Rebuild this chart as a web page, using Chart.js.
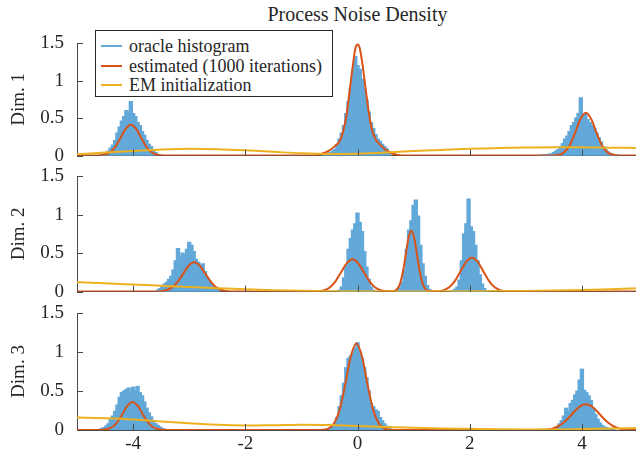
<!DOCTYPE html>
<html>
<head>
<meta charset="utf-8">
<script src="https://cdn.jsdelivr.net/npm/chart.js@4.4.0/dist/chart.umd.min.js"></script>
<style>
  html, body { margin: 0; padding: 0; background: #fff; }
  body { width: 636px; height: 455px; overflow: hidden; position: relative; font-family: 'Liberation Serif', 'DejaVu Serif', serif; color: #262626; }
  canvas { position: absolute; left: 0; }
  #title { position: absolute; left: 77px; width: 561px; top: 3px; text-align: center; font-size: 20px; line-height: 22px; }
  #legend { position: absolute; left: 95px; top: 30px; width: 236px; height: 65px; border: 1px solid #262626; background: #fff; font-size: 18px; z-index: 5; }
  .row { position: absolute; left: 0; right: 0; height: 20px; line-height: 20px; white-space: nowrap; }
  .swatch { position: absolute; left: 5px; top: 9px; width: 21px; height: 2px; }
  .row .label { position: absolute; left: 33px; top: 0; }
</style>
</head>
<body>
<div id="title">Process Noise Density</div>
<canvas id="dim1" width="638" height="180" style="top:0px"></canvas>
<canvas id="dim2" width="638" height="176" style="top:140px"></canvas>
<canvas id="dim3" width="638" height="175" style="top:280px"></canvas>
<div id="legend"></div>
<script>
const xTicks = [-4, -2, 0, 2, 4];
const yTicks = [0, 0.5, 1, 1.5];
const seriesNames = ['oracle histogram', 'estimated (1000 iterations)', 'EM initialization'];
const seriesColors = ['rgb(98, 168, 216)', 'rgb(217, 83, 25)', 'rgb(237, 177, 32)'];
const axisColor = '#4a4a4a';
const textColor = '#262626';
const binWidth = 0.04;

// Dim. 1
const dim1HistStarts = [-4.56, -0.60, 3.30];
const dim1HistHeights = [
  [0.02, 0.03, 0.04, 0.06, 0.10, 0.14, 0.20, 0.30, 0.38, 0.46, 0.52, 0.60, 0.58, 0.72, 0.56, 0.52, 0.44, 0.40, 0.32, 0.27, 0.20, 0.15, 0.12, 0.08, 0.04],
  [0.01, 0.02, 0.03, 0.04, 0.06, 0.08, 0.14, 0.22, 0.30, 0.40, 0.56, 0.72, 0.90, 1.10, 1.32, 1.20, 1.15, 1.02, 0.90, 0.74, 0.58, 0.44, 0.36, 0.28, 0.22, 0.19, 0.15, 0.12, 0.09, 0.04],
  [0.01, 0.01, 0.00, 0.02, 0.02, 0.04, 0.06, 0.08, 0.12, 0.16, 0.22, 0.26, 0.32, 0.40, 0.44, 0.50, 0.56, 0.77, 0.52, 0.55, 0.48, 0.44, 0.40, 0.36, 0.30, 0.24, 0.18, 0.12, 0.08, 0.05, 0.03, 0.02, 0.01, 0.01]
];
const dim1Estimated = [[-5, 0], [-4.64, 0.001], [-4.54, 0.007], [-4.44, 0.03], [-4.34, 0.094], [-4.24, 0.214], [-4.14, 0.348], [-4.04, 0.41], [-3.94, 0.348], [-3.84, 0.214], [-3.74, 0.094], [-3.64, 0.03], [-3.54, 0.007], [-3.44, 0.001], [-3.3, 0],
  [-0.8, 0], [-0.66, 0.02], [-0.5, 0.07], [-0.4, 0.13], [-0.3, 0.22], [-0.2, 0.52], [-0.14, 0.86], [-0.08, 1.22], [-0.04, 1.42], [0, 1.48], [0.04, 1.43], [0.08, 1.26], [0.14, 0.92], [0.2, 0.58], [0.26, 0.34], [0.32, 0.22], [0.41, 0.14], [0.5, 0.08], [0.6, 0.035], [0.7, 0.012], [0.85, 0],
  [3.47, 0.001], [3.57, 0.008], [3.67, 0.036], [3.77, 0.12], [3.87, 0.285], [3.97, 0.48], [4.07, 0.57], [4.17, 0.48], [4.27, 0.285], [4.37, 0.12], [4.47, 0.036], [4.57, 0.008], [4.67, 0.001], [5, 0]];
const dim1EMInit = [[-5, 0.018], [-4.5, 0.04], [-4, 0.06], [-3.5, 0.08], [-3, 0.09], [-2.5, 0.085], [-2, 0.07], [-1.5, 0.05], [-1, 0.03], [-0.5, 0.02], [0, 0.025], [0.5, 0.04], [1, 0.06], [1.5, 0.075], [2, 0.09], [2.5, 0.1], [3, 0.108], [3.5, 0.112], [4, 0.112], [4.5, 0.106], [5, 0.1]];

// Dim. 2
const dim2HistStarts = [-3.56, -0.32, 0.72, 1.70];
const dim2HistHeights = [
  [0.02, 0.04, 0.06, 0.10, 0.12, 0.16, 0.20, 0.28, 0.40, 0.56, 0.44, 0.50, 0.48, 0.55, 0.64, 0.60, 0.52, 0.42, 0.38, 0.34, 0.36, 0.26, 0.18, 0.14, 0.10, 0.06, 0.04, 0.02],
  [0.02, 0.06, 0.18, 0.34, 0.55, 0.69, 0.80, 0.88, 1.02, 0.90, 0.78, 0.52, 0.32, 0.16, 0.06, 0.02],
  [0.02, 0.05, 0.12, 0.28, 0.55, 0.80, 0.92, 1.12, 1.19, 0.98, 0.60, 0.36, 0.20, 0.08, 0.03],
  [0.01, 0.03, 0.06, 0.15, 0.40, 0.75, 0.88, 1.20, 0.84, 0.78, 0.60, 0.40, 0.22, 0.10, 0.04, 0.01]
];
const dim2Estimated = [[-5, 0], [-3.61, 0.001], [-3.51, 0.004], [-3.41, 0.017], [-3.31, 0.051], [-3.21, 0.123], [-3.11, 0.23], [-3.01, 0.335], [-2.91, 0.38], [-2.81, 0.335], [-2.71, 0.23], [-2.61, 0.123], [-2.51, 0.051], [-2.41, 0.017], [-2.31, 0.004], [-2.21, 0.001], [-1, 0],
  [-0.69, 0.005], [-0.59, 0.018], [-0.49, 0.057], [-0.39, 0.137], [-0.29, 0.255], [-0.19, 0.37], [-0.09, 0.42], [0.01, 0.37], [0.11, 0.255], [0.21, 0.137], [0.31, 0.057], [0.41, 0.018], [0.51, 0.006], [0.61, 0.003],
  [0.66, 0.01], [0.71, 0.035], [0.76, 0.107], [0.81, 0.257], [0.86, 0.48], [0.91, 0.70], [0.96, 0.79], [1.01, 0.70], [1.06, 0.48], [1.11, 0.257], [1.16, 0.107], [1.21, 0.035], [1.26, 0.009], [1.34, 0.004],
  [1.44, 0.005], [1.54, 0.019], [1.64, 0.059], [1.74, 0.143], [1.84, 0.267], [1.94, 0.388], [2.04, 0.44], [2.14, 0.388], [2.24, 0.267], [2.34, 0.143], [2.44, 0.059], [2.54, 0.019], [2.64, 0.005], [2.74, 0.001], [5, 0]];
const dim2EMInit = [[-5, 0.122], [-4.5, 0.107], [-4, 0.092], [-3.5, 0.076], [-3, 0.06], [-2.5, 0.045], [-2, 0.03], [-1.5, 0.018], [-1, 0.01], [-0.5, 0.005], [0, 0.003], [1, 0.002], [2, 0.003], [3, 0.008], [3.5, 0.014], [4, 0.022], [4.5, 0.032], [5, 0.042]];

// Dim. 3
const dim3HistStarts = [-4.56, -0.56, 3.48];
const dim3HistHeights = [
  [0.02, 0.03, 0.05, 0.08, 0.14, 0.18, 0.24, 0.32, 0.42, 0.48, 0.50, 0.52, 0.54, 0.48, 0.55, 0.50, 0.56, 0.48, 0.44, 0.36, 0.28, 0.22, 0.17, 0.12, 0.08, 0.06, 0.04, 0.02, 0.01],
  [0.01, 0.02, 0.03, 0.05, 0.08, 0.16, 0.30, 0.44, 0.60, 0.80, 0.92, 0.95, 0.98, 1.05, 1.12, 1.00, 0.92, 0.80, 0.67, 0.50, 0.34, 0.30, 0.26, 0.24, 0.16, 0.12, 0.08, 0.05, 0.03, 0.01],
  [0.01, 0.02, 0.04, 0.08, 0.12, 0.18, 0.28, 0.24, 0.34, 0.38, 0.45, 0.50, 0.64, 0.78, 0.51, 0.48, 0.44, 0.38, 0.28, 0.20, 0.14, 0.09, 0.06, 0.04, 0.03, 0.02, 0.01, 0.01]
];
const dim3Estimated = [[-5, 0], [-4.61, 0.0005], [-4.51, 0.006], [-4.41, 0.023], [-4.31, 0.076], [-4.21, 0.18], [-4.11, 0.303], [-4.01, 0.36], [-3.91, 0.303], [-3.81, 0.18], [-3.71, 0.076], [-3.61, 0.023], [-3.51, 0.006], [-3.41, 0.0005], [-1, 0],
  [-0.72, 0.0005], [-0.62, 0.003], [-0.52, 0.019], [-0.42, 0.082], [-0.32, 0.255], [-0.22, 0.578], [-0.12, 0.943], [-0.02, 1.11], [0.08, 0.943], [0.18, 0.578], [0.28, 0.255], [0.38, 0.082], [0.48, 0.019], [0.58, 0.003], [0.68, 0.0005],
  [3.17, 0.0005], [3.27, 0.002], [3.37, 0.0065], [3.47, 0.018], [3.57, 0.045], [3.67, 0.092], [3.77, 0.16], [3.87, 0.24], [3.97, 0.305], [4.07, 0.33], [4.17, 0.305], [4.27, 0.24], [4.37, 0.16], [4.47, 0.092], [4.57, 0.045], [4.67, 0.018], [4.77, 0.0065], [4.87, 0.002], [5, 0.0005]];
const dim3EMInit = [[-5, 0.16], [-4.5, 0.15], [-4, 0.135], [-3.5, 0.11], [-3, 0.085], [-2.5, 0.066], [-2, 0.058], [-1.5, 0.062], [-1, 0.068], [-0.5, 0.065], [0, 0.05], [0.5, 0.038], [1, 0.028], [1.5, 0.02], [2, 0.015], [2.5, 0.01], [3, 0.008], [3.5, 0.008], [4, 0.012], [4.5, 0.018], [5, 0.026]];

const tickFont = { family: "'Liberation Serif', 'DejaVu Serif', serif", size: 19 };

// legend (html, drawn over the first panel)
const legend = document.getElementById('legend');
seriesNames.forEach((name, i) => {
  const row = document.createElement('div');
  row.className = 'row';
  row.style.top = (5 + i * 19.5) + 'px';
  row.innerHTML = '<div class="swatch" style="background:' + seriesColors[i] + '"></div><span class="label"></span>';
  row.querySelector('.label').textContent = name;
  legend.appendChild(row);
});

function histPoints(starts, heights) {
  const pts = [];
  starts.forEach((s, k) => {
    heights[k].forEach((h, i) => pts.push({ x: +(s + i * binWidth).toFixed(3), y: h }));
  });
  return pts;
}

function toXY(pairs) {
  return pairs.map(p => ({ x: p[0], y: p[1] }));
}

// matlab style ticks pointing into the plot
const inwardTicks = {
  id: 'inwardTicks',
  afterDatasetsDraw(chart) {
    const { ctx, chartArea, scales: { x, y } } = chart;
    ctx.save();
    ctx.strokeStyle = axisColor;
    ctx.lineWidth = 1;
    ctx.beginPath();
    xTicks.forEach(v => {
      const px = Math.round(x.getPixelForValue(v)) + 0.5;
      ctx.moveTo(px, chartArea.bottom);
      ctx.lineTo(px, chartArea.bottom - 6);
    });
    yTicks.forEach(v => {
      const py = Math.round(y.getPixelForValue(v)) + 0.5;
      ctx.moveTo(chartArea.left, py);
      ctx.lineTo(chartArea.left + 6, py);
    });
    ctx.stroke();
    ctx.restore();
  }
};

function makePanel(id, label, hist, est, em, padTop, xAxisHeight, showXLabels) {
  return new Chart(document.getElementById(id), {
    type: 'bar',
    data: {
      datasets: [
        { type: 'line', label: seriesNames[2], data: toXY(em), borderColor: seriesColors[2], borderWidth: 2, pointRadius: 0, cubicInterpolationMode: 'monotone', fill: false, order: 0 },
        { type: 'line', label: seriesNames[1], data: toXY(est), borderColor: seriesColors[1], borderWidth: 2, pointRadius: 0, cubicInterpolationMode: 'monotone', fill: false, order: 1 },
        // overlapping bins so the histogram reads as one solid shape
        { type: 'bar', label: seriesNames[0], data: hist, backgroundColor: seriesColors[0], borderWidth: 0, barPercentage: 1.5, categoryPercentage: 1, grouped: false, inflateAmount: 0.5, order: 2 }
      ]
    },
    options: {
      responsive: false,
      animation: false,
      events: [],
      layout: { padding: { top: padTop, left: 0, right: 0, bottom: 0 } },
      plugins: { legend: { display: false }, tooltip: { enabled: false } },
      scales: {
        x: {
          type: 'linear', min: -5, max: 5, offset: false,
          grid: { display: false, drawTicks: false, offset: false },
          border: { display: true, color: axisColor, width: 1 },
          ticks: { display: showXLabels, font: tickFont, color: textColor, padding: 3, maxRotation: 0, callback: v => String(v) },
          afterBuildTicks: s => { s.ticks = xTicks.map(v => ({ value: v })); },
          afterFit: s => { s.height = xAxisHeight; }
        },
        y: {
          min: 0, max: 1.5,
          grid: { display: false, drawTicks: false },
          border: { display: true, color: axisColor, width: 1 },
          ticks: { font: tickFont, color: textColor, padding: 13, callback: v => String(v) },
          afterBuildTicks: s => { s.ticks = yTicks.map(v => ({ value: v })); },
          afterFit: s => { s.width = 77; },
          title: { display: true, text: label, font: tickFont, color: textColor, padding: { top: 8, bottom: 0 } }
        }
      }
    },
    plugins: [inwardTicks]
  });
}

makePanel('dim1', 'Dim. 1', histPoints(dim1HistStarts, dim1HistHeights), dim1Estimated, dim1EMInit, 43, 22, false);
makePanel('dim2', 'Dim. 2', histPoints(dim2HistStarts, dim2HistHeights), dim2Estimated, dim2EMInit, 36, 22, false);
makePanel('dim3', 'Dim. 3', histPoints(dim3HistStarts, dim3HistHeights), dim3Estimated, dim3EMInit, 33, 25, true);
</script>
</body>
</html>
